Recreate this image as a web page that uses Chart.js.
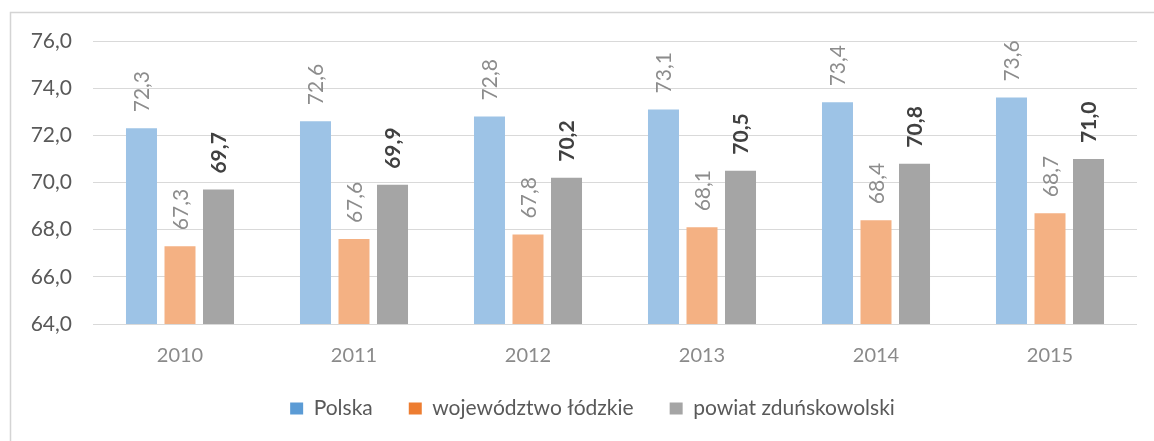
<!DOCTYPE html>
<html>
<head>
<meta charset="utf-8">
<script src="https://cdn.jsdelivr.net/npm/chart.js@4/dist/chart.umd.min.js"></script>
<style>
  html, body { margin: 0; padding: 0; background: #ffffff; }
  #wrap { width: 1154px; height: 441px; position: relative; }
</style>
</head>
<body>
<div id="wrap"><canvas id="c" width="1154" height="441"></canvas></div>
<script>
const categories = ['2010', '2011', '2012', '2013', '2014', '2015'];
const seriesNames = ['Polska', 'województwo łódzkie', 'powiat zduńskowolski'];
const polska = [72.3, 72.6, 72.8, 73.1, 73.4, 73.6];
const lodzkie = [67.3, 67.6, 67.8, 68.1, 68.4, 68.7];
const zdunskowolski = [69.7, 69.9, 70.2, 70.5, 70.8, 71.0];
const yTicks = [64, 66, 68, 70, 72, 74, 76];

const barColors = ['#9DC3E6', '#F4B183', '#A5A5A5'];
const legendColors = ['#5B9BD5', '#ED7D31', '#A5A5A5'];
const labelColors = ['#8c8c8c', '#8c8c8c', '#404040'];
const labelWeights = ['normal', 'normal', 'bold'];
const FONT = 'Lato, "Open Sans", sans-serif';

const fmt = v => v.toFixed(1).replace('.', ',');

const frame = {
  id: 'frame',
  beforeDraw(chart) {
    const ctx = chart.ctx;
    ctx.save();
    ctx.fillStyle = '#ffffff';
    ctx.fillRect(0, 0, chart.width, chart.height);
    ctx.strokeStyle = '#d4d4d4';
    ctx.lineWidth = 1.5;
    ctx.strokeRect(10.5, 12.5, 1160, 450);
    ctx.restore();
  }
};

const legendShift = {
  id: 'legendShift',
  afterLayout(chart) {
    if (chart.legend) {
      chart.legend.left += 24;
      chart.legend.right += 24;
    }
  }
};

const valueLabels = {
  id: 'valueLabels',
  afterDatasetsDraw(chart) {
    const ctx = chart.ctx;
    chart.data.datasets.forEach((ds, i) => {
      const meta = chart.getDatasetMeta(i);
      meta.data.forEach((bar, j) => {
        ctx.save();
        ctx.font = labelWeights[i] + ' 21px ' + FONT;
        ctx.fillStyle = labelColors[i];
        ctx.translate(bar.x + 1, bar.y - 16);
        ctx.rotate(-Math.PI / 2);
        ctx.textAlign = 'left';
        ctx.textBaseline = 'middle';
        ctx.fillText(fmt(ds.data[j]), 0, 0);
        ctx.restore();
      });
    });
  }
};

const seriesData = [polska, lodzkie, zdunskowolski];

new Chart(document.getElementById('c'), {
  type: 'bar',
  data: {
    labels: categories,
    datasets: seriesNames.map((name, i) => ({
      label: name,
      data: seriesData[i],
      backgroundColor: barColors[i],
      borderWidth: 0,
      categoryPercentage: 0.664,
      barPercentage: 0.805
    }))
  },
  options: {
    responsive: false,
    animation: false,
    devicePixelRatio: 1,
    layout: { padding: { left: 0, right: 17, top: 41, bottom: 12 } },
    plugins: {
      tooltip: { enabled: false },
      legend: {
        position: 'bottom',
        labels: {
          boxWidth: 13,
          boxHeight: 12,
          padding: 36,
          color: '#595959',
          font: { family: FONT, size: 21 },
          generateLabels(chart) {
            return chart.data.datasets.map((ds, i) => ({
              text: ds.label,
              fillStyle: legendColors[i],
              strokeStyle: legendColors[i],
              lineWidth: 0,
              hidden: false,
              datasetIndex: i,
              fontColor: '#595959'
            }));
          }
        }
      }
    },
    scales: {
      x: {
        grid: { display: false, drawTicks: false },
        border: { display: false },
        ticks: { color: '#8a8a8a', font: { family: FONT, size: 20 }, padding: 20, maxRotation: 0 },
        afterFit(scale) { scale.height = 38; }
      },
      y: {
        min: yTicks[0],
        max: yTicks[yTicks.length - 1],
        grid: { color: '#d9d9d9', lineWidth: 1, drawTicks: false },
        border: { display: false },
        afterBuildTicks(scale) { scale.ticks = yTicks.map(v => ({ value: v })); },
        ticks: {
          color: '#595959',
          font: { family: FONT, size: 21 },
          padding: 21,
          callback: v => fmt(v)
        },
        afterFit(scale) { scale.width = 93; }
      }
    }
  },
  plugins: [frame, legendShift, valueLabels]
});
</script>
</body>
</html>
